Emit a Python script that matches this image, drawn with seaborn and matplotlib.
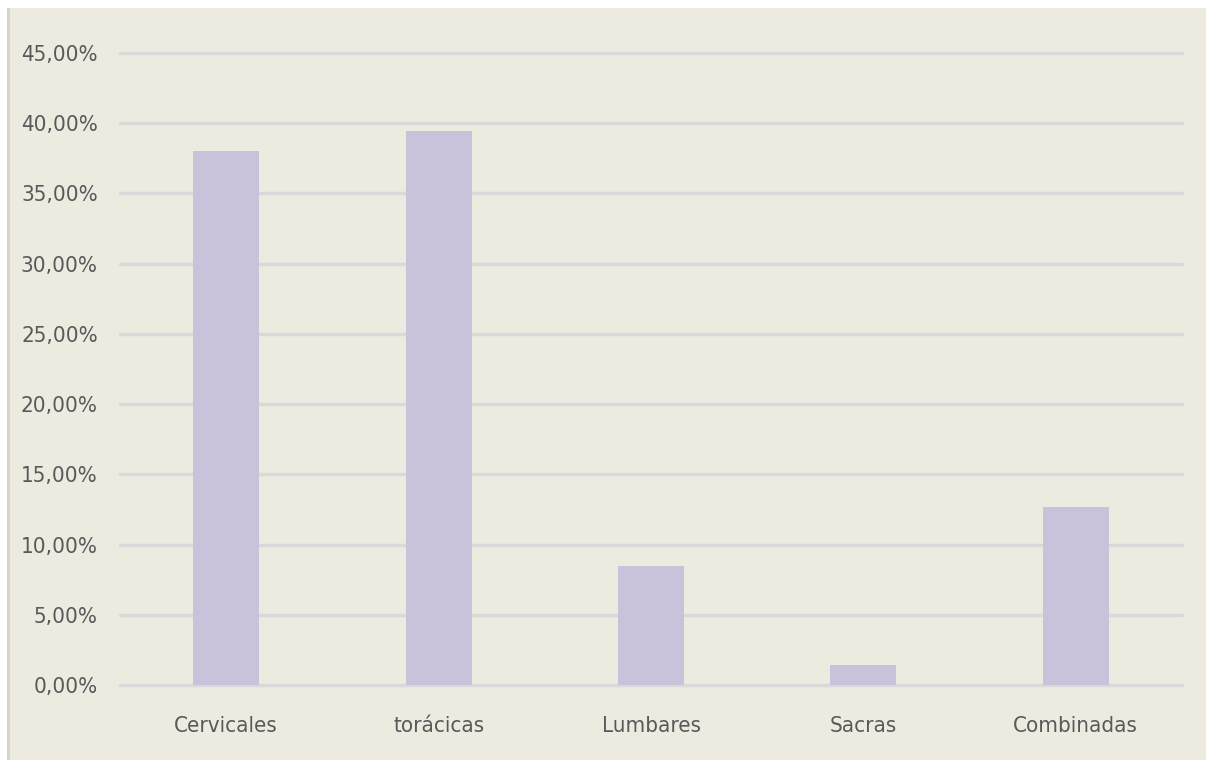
import matplotlib
matplotlib.use("Agg")
import matplotlib.pyplot as plt
from matplotlib.patches import Rectangle
from matplotlib.ticker import FuncFormatter, MultipleLocator
import seaborn as sns
import pandas as pd

categories = ["Cervicales", "torácicas", "Lumbares", "Sacras", "Combinadas"]
values = [0.3803, 0.3944, 0.0845, 0.0141, 0.1268]

BG = "#EDEAE0"
BAR = "#CAC1DA"
GRID = "#D9D9D9"
TEXT = "#595959"

sns.set_theme(style="white")
plt.rcParams["font.family"] = ["DejaVu Sans"]
plt.rcParams["font.stretch"] = "condensed"

W, H = 1206, 760
fig = plt.figure(figsize=(W / 100, H / 100), dpi=100, facecolor="white")

# chart area background with a thin gray left edge
fig.patches.append(Rectangle((7 / W, 0), 3 / W, (H - 8) / H, transform=fig.transFigure,
                             facecolor="#D4D4D4", edgecolor="none", zorder=-10))
fig.patches.append(Rectangle((10 / W, 0), (W - 10) / W, (H - 8) / H, transform=fig.transFigure,
                             facecolor=BG, edgecolor="none", zorder=-10))

left, right = 120 / W, 1182 / W
bottom, top = (H - 685) / H, (H - 53) / H
ax = fig.add_axes([left, bottom, right - left, top - bottom])
ax.set_facecolor("none")
ax.set_zorder(1)

df = pd.DataFrame({"categoria": categories, "valor": values})
sns.barplot(data=df, x="categoria", y="valor", color=BAR, saturation=1,
            width=0.31, edgecolor="none", linewidth=0, ax=ax, zorder=3)

ax.set_xlim(-0.5, len(categories) - 0.5)
ax.set_ylim(0, 0.45)
ax.yaxis.set_major_locator(MultipleLocator(0.05))
ax.yaxis.set_major_formatter(FuncFormatter(lambda v, _: f"{v * 100:.2f}%".replace(".", ",")))
ax.grid(axis="y", color=GRID, linewidth=2.5, zorder=0)
ax.set_axisbelow(True)
for s in ax.spines.values():
    s.set_visible(False)
for gl in ax.get_ygridlines():
    gl.set_clip_on(False)

ax.set_xlabel("")
ax.set_ylabel("")
ax.tick_params(axis="y", length=0, pad=16, labelsize=16, labelcolor=TEXT)
ax.tick_params(axis="x", length=0, pad=22, labelsize=16, labelcolor=TEXT)
for lbl in ax.get_xticklabels() + ax.get_yticklabels():
    lbl.set_fontstretch("condensed")

fig.savefig("out.png", dpi=100, facecolor="white")
